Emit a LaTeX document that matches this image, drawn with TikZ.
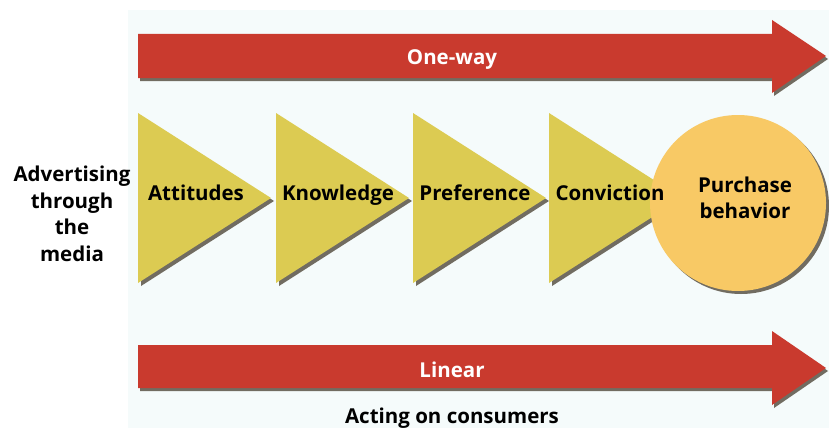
\documentclass[tikz,border=0pt]{standalone}
\usepackage{fontspec}
\setmainfont{Open Sans}
\usetikzlibrary{shapes.geometric}
\definecolor{panel}{HTML}{F5FBFB}
\definecolor{redarrow}{HTML}{C93A2E}
\definecolor{tri}{HTML}{DCCB52}
\definecolor{circ}{HTML}{F8C965}
\definecolor{shade}{HTML}{3A3020}
\tikzset{
  lbl/.style={font=\bfseries\fontsize{20.5}{26.5}\selectfont, text=black, inner sep=0pt, align=center, anchor=base},
  wlbl/.style={font=\bfseries\fontsize{20.5}{26.5}\selectfont, text=white, inner sep=0pt, anchor=base},
  shadow/.style={fill=shade, opacity=0.7},
}
\begin{document}
\begin{tikzpicture}[x=1pt,y=-1pt]
\useasboundingbox (0,0) rectangle (829,428);
\fill[white] (0,0) rectangle (829,428);
\fill[panel] (128,10) rectangle (829,428);
% top arrow
\fill[shadow] (140,37) -- (774,37) -- (774,23) -- (828,59) -- (774,96) -- (774,81) -- (140,81) -- cycle;
\fill[redarrow] (138,34) -- (772,34) -- (772,20) -- (826,56) -- (772,93) -- (772,78) -- (138,78) -- cycle;
% bottom arrow
\fill[shadow] (140,348) -- (774,348) -- (774,334) -- (828,371) -- (774,408) -- (774,391) -- (140,391) -- cycle;
\fill[redarrow] (138,345) -- (772,345) -- (772,331) -- (826,368) -- (772,405) -- (772,388) -- (138,388) -- cycle;
% triangles
\foreach \x in {138,276,413,549}{
  \fill[shadow] (\x+3,116) -- (\x+136,201) -- (\x+3,286) -- cycle;
  \fill[tri] (\x,113) -- (\x+133,198) -- (\x,283) -- cycle;
}
% circle
\fill[shadow] (741,206) circle (88);
\fill[circ] (738,203) circle (88);
% labels
\node[wlbl] (oneway) at (452,64) {One-way};
\node[wlbl] (linear) at (452,377) {Linear};
\node[lbl] (acting) at (452,423) {Acting on consumers};
\node[lbl, anchor=north] (adv) at (72,166) {Advertising\\through\\the\\media};
\node[lbl] (att) at (196,200) {Attitudes};
\node[lbl] (know) at (338,200) {Knowledge};
\node[lbl] (pref) at (475,200) {Preference};
\node[lbl] (conv) at (610,200) {Conviction};
\node[lbl, anchor=north, font=\bfseries\fontsize{20.5}{25.5}\selectfont] (purch) at (745,177) {Purchase\\behavior};
\end{tikzpicture}
\end{document}
